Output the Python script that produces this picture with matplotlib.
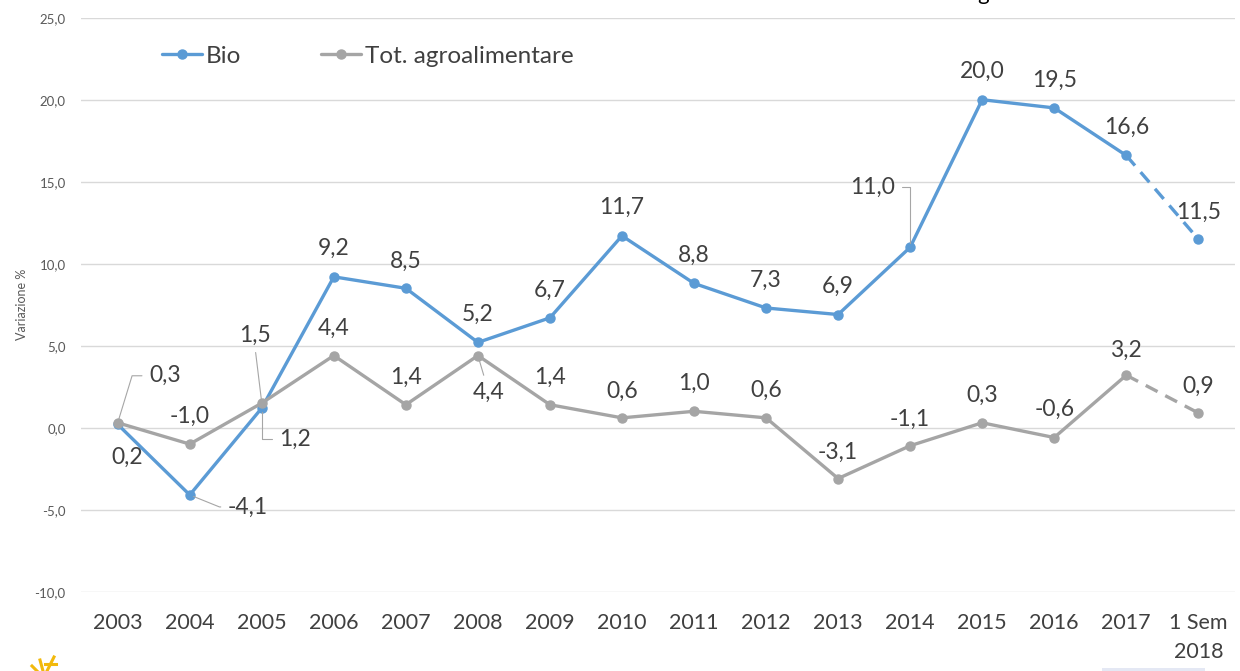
import matplotlib.pyplot as plt
from matplotlib.lines import Line2D
from matplotlib.patches import Rectangle

# Chart data
periods = ['2003', '2004', '2005', '2006', '2007', '2008', '2009', '2010',
           '2011', '2012', '2013', '2014', '2015', '2016', '2017', '1 Sem\n2018']
bio = [0.2, -4.1, 1.2, 9.2, 8.5, 5.2, 6.7, 11.7, 8.8, 7.3, 6.9, 11.0, 20.0, 19.5, 16.6, 11.5]
tot_agro = [0.3, -1.0, 1.5, 4.4, 1.4, 4.4, 1.4, 0.6, 1.0, 0.6, -3.1, -1.1, 0.3, -0.6, 3.2, 0.9]
y_ticks = [-10, -5, 0, 5, 10, 15, 20, 25]

BLUE = '#5B9BD5'
GRAY = '#A5A5A5'
TXT = '#404040'
LEAD = '#A6A6A6'
FONT = 'Lato'

# label offsets in pixels (dx, dy up) from each point, plus leader style
bio_offsets = [(9, -33), (58, -12), (33, -31), (0, 28), (0, 27), (0, 28), (0, 27), (0, 28),
               (0, 28), (0, 28), (0, 28), (-38, 60), (0, 28), (0, 28), (0, 28), (0, 27)]
tot_offsets = [(47, 47), (0, 28), (-7, 68), (0, 27), (0, 27), (11, -37), (0, 27), (0, 27),
               (0, 28), (0, 28), (0, 26), (0, 26), (0, 27), (0, 28), (0, 25), (0, 27)]
bio_leaders = {1: ((0, 0.5), 'angle,angleA=0,angleB=-22,rad=0'),
               2: ((0, 0.5), 'angle,angleA=0,angleB=90,rad=0'),
               11: ((1, 0.5), 'angle,angleA=0,angleB=90,rad=0')}
tot_leaders = {0: ((0, 0.5), 'angle,angleA=0,angleB=73,rad=0'),
               2: ((0.5, 0), 'arc3'),
               5: ((0.4, 1), 'arc3')}


def fmt(v):
    return f'{v:.1f}'.replace('.', ',')


def draw_series(ax, vals, color, label):
    x = list(range(len(vals)))
    ax.plot(x[:-1], vals[:-1], color=color, lw=2.4, marker='o', ms=6.5,
            solid_capstyle='round', label=label, zorder=3)
    ax.plot(x[-2:], vals[-2:], color=color, lw=2.4, dashes=(4, 2.6), zorder=3)
    ax.plot(x[-1:], vals[-1:], color=color, marker='o', ms=6.5, lw=0, zorder=3)


def draw_labels(ax, vals, offsets, leaders):
    for i, v in enumerate(vals):
        dx, dy = offsets[i]
        kw = {}
        if i in leaders:
            relpos, conn = leaders[i]
            kw['arrowprops'] = dict(arrowstyle='-', color=LEAD, lw=0.8, shrinkA=3, shrinkB=3,
                                    relpos=relpos, connectionstyle=conn)
        ax.annotate(fmt(v), xy=(i, v), xytext=(dx * 0.72, dy * 0.72),
                    textcoords='offset points', ha='center', va='center',
                    fontsize=16.5, color=TXT, family=FONT, zorder=4, **kw)


fig = plt.figure(figsize=(12.4, 6.71), dpi=100)
ax = fig.add_axes([0.0653, 0.1182, 0.9307, 0.8554])

draw_series(ax, bio, BLUE, 'Bio')
draw_series(ax, tot_agro, GRAY, 'Tot. agroalimentare')
draw_labels(ax, bio, bio_offsets, bio_leaders)
draw_labels(ax, tot_agro, tot_offsets, tot_leaders)

ax.set_xlim(-0.51, 15.51)
ax.set_ylim(-10, 25)
ax.set_yticks(y_ticks)
ax.set_yticklabels([fmt(t) for t in y_ticks], fontsize=9.5, color='#595959', family=FONT)
ax.set_xticks(range(len(periods)))
ax.set_xticklabels(periods, fontsize=15.5, color=TXT, family=FONT, linespacing=1.6)
ax.tick_params(axis='both', length=0)
ax.tick_params(axis='y', pad=11)
ax.tick_params(axis='x', pad=15)
ax.grid(axis='y', color='#D9D9D9', lw=1)
ax.set_axisbelow(True)
for s in ax.spines.values():
    s.set_visible(False)
ax.set_ylabel('Variazione %', fontsize=9, color='#595959', family=FONT, labelpad=5)

ax.legend(loc='center left', bbox_to_anchor=(0.1306, 0.9165), bbox_transform=fig.transFigure,
          frameon=False, ncol=2, prop={'family': FONT, 'size': 17.5}, labelcolor=TXT,
          handlelength=1.65, handletextpad=0.15, columnspacing=3.3, borderpad=0, borderaxespad=0)

# cut-off title remnant and small decorations at the bottom
fig.text(983 / 1240, 1.0, 'g', ha='center', va='baseline', fontsize=16, color='black', family=FONT)
for xs, ys in [((32, 37), (666, 671)), ((40, 43), (660, 671)), ((47, 54), (671, 657)), ((45, 56), (664, 664))]:
    fig.add_artist(Line2D([xs[0] / 1240, xs[1] / 1240], [1 - ys[0] / 671, 1 - ys[1] / 671],
                          transform=fig.transFigure, color='#F2B90C', lw=2.2))
fig.add_artist(Rectangle((1102 / 1240, 0), 103 / 1240, 3 / 671, transform=fig.transFigure,
                         color='#E4E8F4', lw=0))

fig.savefig('out.png', dpi=100)
